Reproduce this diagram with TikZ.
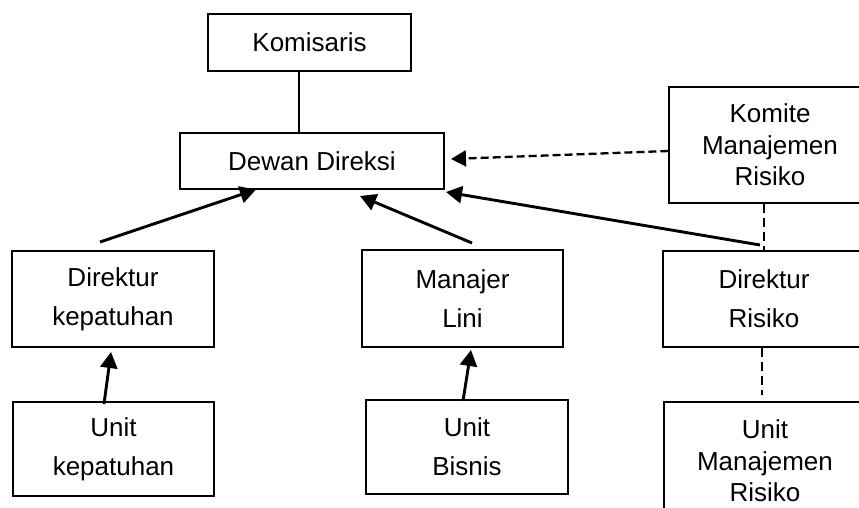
\documentclass[tikz,border=0pt]{standalone}
\usepackage{fontspec}
\setmainfont{Liberation Sans}
\usetikzlibrary{arrows.meta,calc}

\tikzset{
  box/.style={draw=black, line width=1.1pt, inner sep=0pt, align=center,
    font=\fontsize{26}{39}\selectfont},
  tall/.style={font=\fontsize{26}{31.5}\selectfont},
  arr/.style={line width=2.9pt, -{Triangle[length=16pt,width=17pt]}},
  dasharr/.style={line width=2.3pt, dash pattern=on 8pt off 4pt,
    -{Triangle[length=15pt,width=16pt]}},
  thindash/.style={line width=1.6pt, dash pattern=on 9pt off 5pt},
  link/.style={line width=1.3pt}
}

\begin{document}
\begin{tikzpicture}[x=1pt, y=-1pt]
  \useasboundingbox (0,0) rectangle (859,508);
  \clip (0,0) rectangle (859,508);
  \fill[white] (0,0) rectangle (859,508);

  % boxes
  \node[box, minimum width=203pt, minimum height=57pt] (kom) at (309.5,42.5) {Komisaris};
  \node[box, minimum width=264pt, minimum height=56pt] (dd) at (312,161) {Dewan Direksi};
  \node[box, tall, minimum width=202pt, minimum height=116pt] (kmr) at (770,145) {Komite\\Manajemen\\Risiko};
  \node[box, minimum width=202pt, minimum height=96pt] (dk) at (113,299) {Direktur\\kepatuhan};
  \node[box, minimum width=201pt, minimum height=97pt] (ml) at (462.5,298.5) {Manajer\\Lini};
  \node[box, minimum width=202pt, minimum height=96pt] (dr) at (764,299) {Direktur\\Risiko};
  \node[box, minimum width=201pt, minimum height=94pt] (uk) at (113.5,449) {Unit\\kepatuhan};
  \node[box, minimum width=202pt, minimum height=94pt] (ub) at (467,447) {Unit\\Bisnis};
  \node[box, tall, minimum width=202pt, minimum height=118pt] (umr) at (765,461) {Unit\\Manajemen\\Risiko};

  % free ends of the connectors
  \coordinate (kx) at (299,0);
  \coordinate (s1) at (100,242);
  \coordinate (t1) at (256,0);
  \coordinate (s2) at (472,243);
  \coordinate (t2) at (360,196);
  \coordinate (s3) at (760,245);
  \coordinate (t3) at (446,192);
  \coordinate (ky) at (0,151);
  \coordinate (t4) at (451,159);
  \coordinate (rx) at (764,0);
  \coordinate (ux) at (762,0);
  \coordinate (e7) at (762,395);
  \coordinate (s8) at (104,404);
  \coordinate (t8) at (111,352);
  \coordinate (s9) at (463,401);
  \coordinate (t9) at (471,350);

  % connectors
  \draw[link] (kom.south -| kx) -- (dd.north -| kx);
  \draw[arr] (s1) -- (dd.south -| t1);
  \draw[arr] (s2) -- (t2);
  \draw[arr] (s3) -- (t3);
  \draw[dasharr] (kmr.west |- ky) -- (t4);
  \draw[thindash] (kmr.south -| rx) -- (dr.north -| rx);
  \draw[thindash] (dr.south -| ux) -- (e7);
  \draw[arr] (s8) -- (t8);
  \draw[arr] (s9) -- (t9);
\end{tikzpicture}
\end{document}
